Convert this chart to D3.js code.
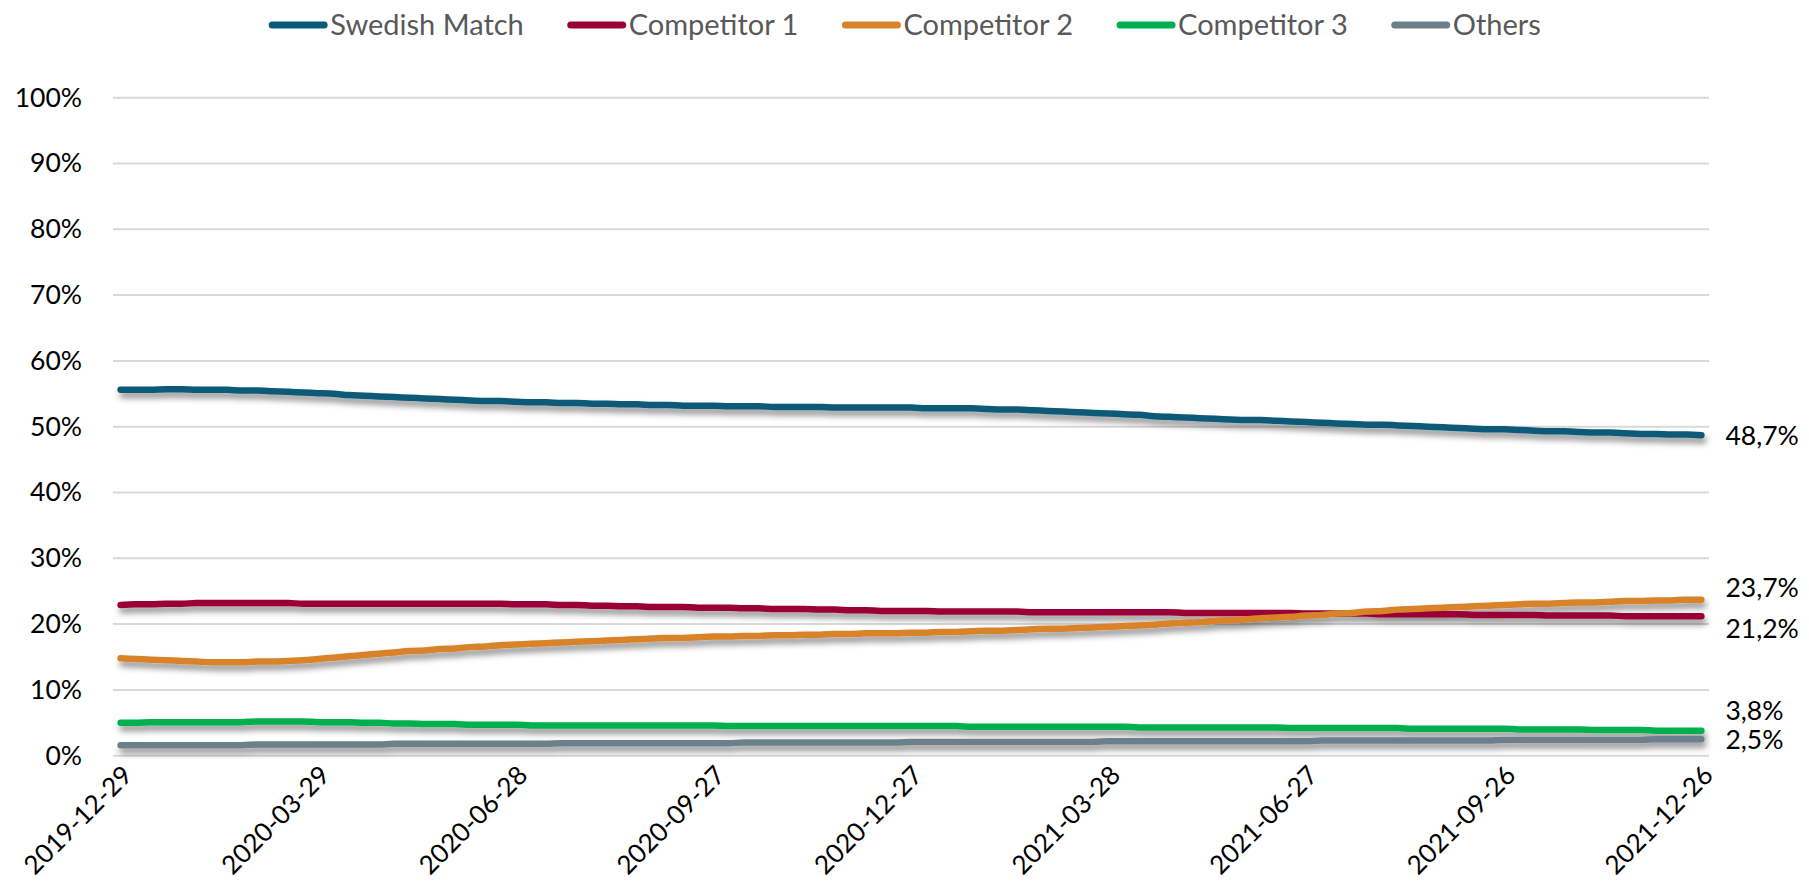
<!DOCTYPE html>
<html>
<head>
<meta charset="utf-8">
<script src="https://cdn.jsdelivr.net/npm/d3@7"></script>
<style>
  body { margin: 0; background: #fff; }
  svg { font-family: Lato, "Open Sans", sans-serif; display: block; }
</style>
</head>
<body>
<div id="chart"></div>
<script>
// weekly categories, first and last week of the period
var firstWeek = "2019-12-29", lastWeek = "2021-12-26";
var seriesNames = ["Swedish Match", "Competitor 1", "Competitor 2", "Competitor 3", "Others"];
var seriesColors = ["#0b5a78", "#9a0036", "#d8822a", "#00b050", "#6e7f8c"];
var yTicks = [0, 10, 20, 30, 40, 50, 60, 70, 80, 90, 100];

// share in %, one value per week (105 weeks)
var swedishMatch = [
  55.6,55.6,55.6,55.7,55.7,55.6,55.6,55.6,55.5,55.5,55.4,55.3,55.2,55.1,55.0,54.8,54.7,54.6,54.5,54.4,
  54.3,54.2,54.1,54.0,53.9,53.9,53.8,53.7,53.7,53.6,53.6,53.5,53.5,53.4,53.4,53.3,53.3,53.2,53.2,53.2,
  53.1,53.1,53.1,53.0,53.0,53.0,53.0,52.9,52.9,52.9,52.9,52.9,52.9,52.8,52.8,52.8,52.8,52.7,52.6,52.6,
  52.5,52.4,52.3,52.2,52.1,52.0,51.9,51.8,51.6,51.5,51.4,51.3,51.2,51.1,51.0,51.0,50.9,50.8,50.7,50.6,
  50.5,50.4,50.3,50.3,50.2,50.1,50.0,49.9,49.8,49.7,49.6,49.6,49.5,49.4,49.3,49.3,49.2,49.1,49.1,49.0,
  48.9,48.9,48.8,48.8,48.7];
var competitor1 = [
  22.9,23.0,23.0,23.1,23.1,23.2,23.2,23.2,23.2,23.2,23.2,23.2,23.1,23.1,23.1,23.1,23.1,23.1,23.1,23.1,
  23.1,23.1,23.1,23.1,23.1,23.1,23.0,23.0,23.0,22.9,22.9,22.8,22.8,22.7,22.7,22.6,22.6,22.6,22.5,22.5,
  22.5,22.4,22.4,22.3,22.3,22.3,22.2,22.2,22.1,22.1,22.0,22.0,22.0,22.0,21.9,21.9,21.9,21.9,21.9,21.9,
  21.8,21.8,21.8,21.8,21.8,21.8,21.8,21.8,21.8,21.8,21.7,21.7,21.7,21.7,21.7,21.7,21.7,21.7,21.6,21.6,
  21.6,21.6,21.6,21.5,21.5,21.5,21.5,21.5,21.5,21.4,21.4,21.4,21.4,21.4,21.3,21.3,21.3,21.3,21.3,21.2,
  21.2,21.2,21.2,21.2,21.2];
var competitor2 = [
  14.8,14.7,14.6,14.5,14.4,14.3,14.2,14.2,14.2,14.3,14.3,14.4,14.5,14.7,14.9,15.1,15.3,15.5,15.7,15.9,
  16.0,16.2,16.3,16.5,16.6,16.8,16.9,17.0,17.1,17.2,17.3,17.4,17.5,17.6,17.7,17.8,17.9,17.9,18.0,18.1,
  18.1,18.2,18.2,18.3,18.3,18.4,18.4,18.5,18.5,18.6,18.6,18.6,18.7,18.7,18.8,18.8,18.9,19.0,19.0,19.1,
  19.2,19.3,19.3,19.4,19.5,19.6,19.7,19.8,19.9,20.1,20.2,20.3,20.5,20.6,20.7,20.9,21.0,21.1,21.3,21.4,
  21.6,21.7,21.9,22.0,22.2,22.3,22.4,22.5,22.6,22.7,22.8,22.9,23.0,23.1,23.1,23.2,23.3,23.3,23.4,23.5,
  23.5,23.6,23.6,23.7,23.7];
var competitor3 = [
  5.0,5.0,5.1,5.1,5.1,5.1,5.1,5.1,5.1,5.2,5.2,5.2,5.2,5.1,5.1,5.1,5.0,5.0,4.9,4.9,
  4.8,4.8,4.8,4.7,4.7,4.7,4.7,4.6,4.6,4.6,4.6,4.6,4.6,4.6,4.6,4.6,4.6,4.6,4.6,4.6,
  4.5,4.5,4.5,4.5,4.5,4.5,4.5,4.5,4.5,4.5,4.5,4.5,4.5,4.5,4.5,4.5,4.4,4.4,4.4,4.4,
  4.4,4.4,4.4,4.4,4.4,4.4,4.4,4.3,4.3,4.3,4.3,4.3,4.3,4.3,4.3,4.3,4.3,4.2,4.2,4.2,
  4.2,4.2,4.2,4.2,4.2,4.1,4.1,4.1,4.1,4.1,4.1,4.1,4.0,4.0,4.0,4.0,4.0,3.9,3.9,3.9,
  3.9,3.8,3.8,3.8,3.8];
var others = [
  1.6,1.6,1.6,1.6,1.6,1.6,1.6,1.6,1.6,1.7,1.7,1.7,1.7,1.7,1.7,1.7,1.7,1.7,1.8,1.8,
  1.8,1.8,1.8,1.8,1.8,1.8,1.8,1.8,1.8,1.9,1.9,1.9,1.9,1.9,1.9,1.9,1.9,1.9,1.9,1.9,
  1.9,2.0,2.0,2.0,2.0,2.0,2.0,2.0,2.0,2.0,2.0,2.0,2.1,2.1,2.1,2.1,2.1,2.1,2.1,2.1,
  2.1,2.1,2.1,2.1,2.1,2.2,2.2,2.2,2.2,2.2,2.2,2.2,2.2,2.2,2.2,2.2,2.2,2.2,2.2,2.3,
  2.3,2.3,2.3,2.3,2.3,2.3,2.3,2.3,2.3,2.3,2.3,2.4,2.4,2.4,2.4,2.4,2.4,2.4,2.4,2.4,
  2.4,2.5,2.5,2.5,2.5];
var seriesValues = [swedishMatch, competitor1, competitor2, competitor3, others];

var fmtDay = d3.utcFormat("%Y-%m-%d");
var weeks = d3.utcWeek.range(new Date(firstWeek), d3.utcDay.offset(new Date(lastWeek), 1)).map(fmtDay);
var tickLabels = weeks.filter(function(d, i) { return i % 13 == 0; });

var width = 1809, height = 885;
var plot = {left: 113, right: 1709, top: 97.7, bottom: 755.7};

var svg = d3.select("#chart").append("svg").attr("width", width).attr("height", height);

var defs = svg.append("defs");
defs.append("filter").attr("id", "shadow")
    .attr("x", "-5%").attr("y", "-50%").attr("width", "110%").attr("height", "200%")
  .append("feDropShadow")
    .attr("dx", 2).attr("dy", 5).attr("stdDeviation", 3)
    .attr("flood-color", "#000").attr("flood-opacity", 0.45);

var x = d3.scaleBand().domain(weeks).range([plot.left, plot.right]);
var y = d3.scaleLinear().domain([0, 100]).range([plot.bottom, plot.top]);

// gridlines
svg.append("g").selectAll("line")
    .data(yTicks)
    .enter().append("line")
    .attr("x1", plot.left).attr("x2", plot.right)
    .attr("y1", function(d) { return y(d); })
    .attr("y2", function(d) { return y(d); })
    .attr("stroke", "#d9d9d9").attr("stroke-width", 2);

// y axis
var yAxis = svg.append("g")
    .attr("transform", "translate(" + (plot.left - 31) + ",0)")
    .call(d3.axisLeft(y).tickValues(yTicks).tickSize(0).tickPadding(0)
        .tickFormat(function(d) { return d + "%"; }));
yAxis.select(".domain").remove();
yAxis.selectAll("text").attr("font-size", 26.5).attr("fill", "#000")
    .attr("font-family", "Lato, sans-serif");

// x axis with rotated labels
var xAxis = svg.append("g")
    .attr("transform", "translate(0," + plot.bottom + ")")
    .call(d3.axisBottom(x).tickValues(tickLabels).tickSize(0));
xAxis.select(".domain").remove();
xAxis.selectAll("text")
    .attr("font-size", 26).attr("fill", "#000").attr("font-family", "Lato, sans-serif")
    .attr("text-anchor", "end")
    .attr("y", 0).attr("dy", "0.72em")
    .attr("transform", "translate(0,8) rotate(-45)");

// lines
var line = d3.line()
    .x(function(d, i) { return x(weeks[i]) + x.bandwidth() / 2; })
    .y(function(d) { return y(d); })
    .curve(d3.curveMonotoneX);

var lines = svg.append("g").attr("filter", "url(#shadow)");
// draw bottom series first so Swedish Match ends on top
[4, 3, 1, 2, 0].forEach(function(k) {
    lines.append("path")
        .attr("d", line(seriesValues[k]))
        .attr("fill", "none")
        .attr("stroke", seriesColors[k])
        .attr("stroke-width", 6.5)
        .attr("stroke-linecap", "round")
        .attr("stroke-linejoin", "round");
});

// end labels, nudged apart where they would collide
var labelNudge = [0, 12, -12, -20, 0];
var lastX = x(weeks[weeks.length - 1]) + x.bandwidth() / 2;
seriesValues.forEach(function(vals, k) {
    var v = vals[vals.length - 1];
    svg.append("text")
        .attr("x", lastX + 24)
        .attr("y", y(v) + labelNudge[k])
        .attr("dy", "0.36em")
        .attr("font-size", 26.5)
        .attr("fill", "#000")
        .text(d3.format(".1f")(v).replace(".", ",") + "%");
});

// legend
var legend = svg.append("g");
var lx = 0;
seriesNames.forEach(function(name, k) {
    var item = legend.append("g").attr("transform", "translate(" + lx + ",0)");
    item.append("line")
        .attr("x1", 3).attr("x2", 55).attr("y1", 25).attr("y2", 25)
        .attr("stroke", seriesColors[k]).attr("stroke-width", 7)
        .attr("stroke-linecap", "round");
    var t = item.append("text")
        .attr("x", 61).attr("y", 25).attr("dy", "0.36em")
        .attr("font-size", 29).attr("fill", "#595959")
        .text(name);
    lx += 61 + t.node().getComputedTextLength() + 44;
});
lx -= 44;
legend.attr("transform", "translate(" + (905 - lx / 2) + ",0)");
</script>
</body>
</html>
